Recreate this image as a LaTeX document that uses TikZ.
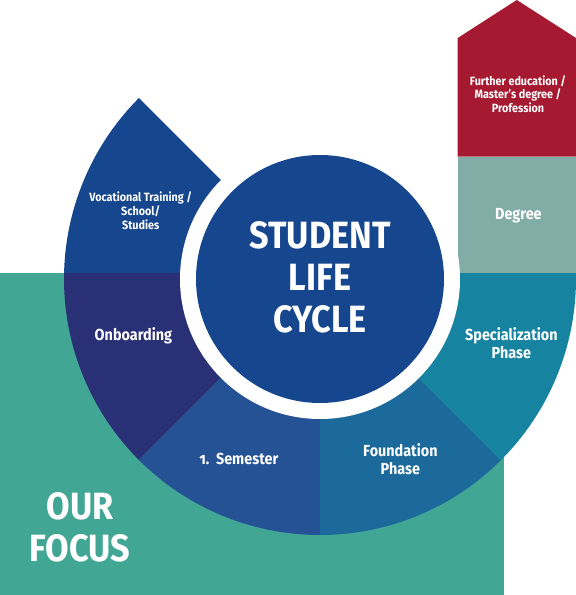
\documentclass[tikz,border=0pt]{standalone}
\usepackage{fontspec}
\setmainfont{Fira Sans}[FakeStretch=0.9]
\usetikzlibrary{calc}
\definecolor{slcblue}{RGB}{21,70,142}
\definecolor{onbblue}{RGB}{42,48,118}
\definecolor{semblue}{RGB}{36,82,148}
\definecolor{fndblue}{RGB}{27,106,155}
\definecolor{spcblue}{RGB}{22,131,160}
\definecolor{degteal}{RGB}{130,172,166}
\definecolor{furred}{RGB}{165,26,48}
\definecolor{ourteal}{RGB}{66,166,149}

\begin{document}
\begin{tikzpicture}[x=1pt, y=1pt,
    lbl/.style={text=white, align=center, inner sep=0pt, anchor=base,
      font=\bfseries\fontsize{16}{17.6}\selectfont},
    small/.style={lbl, font=\bfseries\fontsize{12}{13.8}\selectfont},
    big/.style={lbl, font=\bfseries\fontsize{38}{42}\selectfont}]
  \useasboundingbox (-320,-316) rectangle (256,279);
  \coordinate (0) at (0,0);
  \coordinate (t) at (0,6);
  % focus area
  \fill[ourteal] (-320,-316) rectangle (184.3,6);
  % ring
  \fill[slcblue] (0) -- (135:256) arc[start angle=135, end angle=178.66, radius=256] -- (t) -- cycle;
  \fill[onbblue] (t) -- (178.66:256) arc[start angle=178.66, end angle=225, radius=256] -- (0) -- cycle;
  \fill[semblue] (0) -- (225:256) arc[start angle=225, end angle=270, radius=256] -- cycle;
  \fill[fndblue] (0) -- (270:256) arc[start angle=270, end angle=315, radius=256] -- cycle;
  \fill[spcblue] (0) -- (315:256) arc[start angle=315, end angle=361.34, radius=256] -- (t) -- cycle;
  % column
  \fill[degteal] (137.7,6) rectangle (256,122.3);
  \fill[furred] (137.7,122.3) -- (137.7,241) -- (196.8,279) -- (256,241) -- (256,122.3) -- cycle;
  % centre
  \fill[white] (0) circle[radius=140];
  \fill[slcblue] (0) circle[radius=124];
  \node[big] (slc) at (0,-53) {STUDENT\\LIFE\\CYCLE};
  \node[small] (voc) at (-179.3,49.7) {Vocational Training /\\School/\\Studies};
  \node[lbl] (onb) at (-186.6,-61.7) {Onboarding};
  \node[lbl] (sem) at (-81.2,-185.7) {{\addfontfeature{Numbers=OldStyle}1.}\ \ Semester};
  \node[lbl] (fnd) at (80.4,-195.3) {Foundation\\Phase};
  \node[lbl] (spc) at (191.4,-79.3) {Specialization\\Phase};
  \node[lbl] (deg) at (198.4,59.7) {Degree};
  \node[small] (fur) at (198,166.3) {Further education /\\Master’s degree /\\Profession};
  \node[big] (foc) at (-240,-282.3) {OUR\\FOCUS};
\end{tikzpicture}
\end{document}
